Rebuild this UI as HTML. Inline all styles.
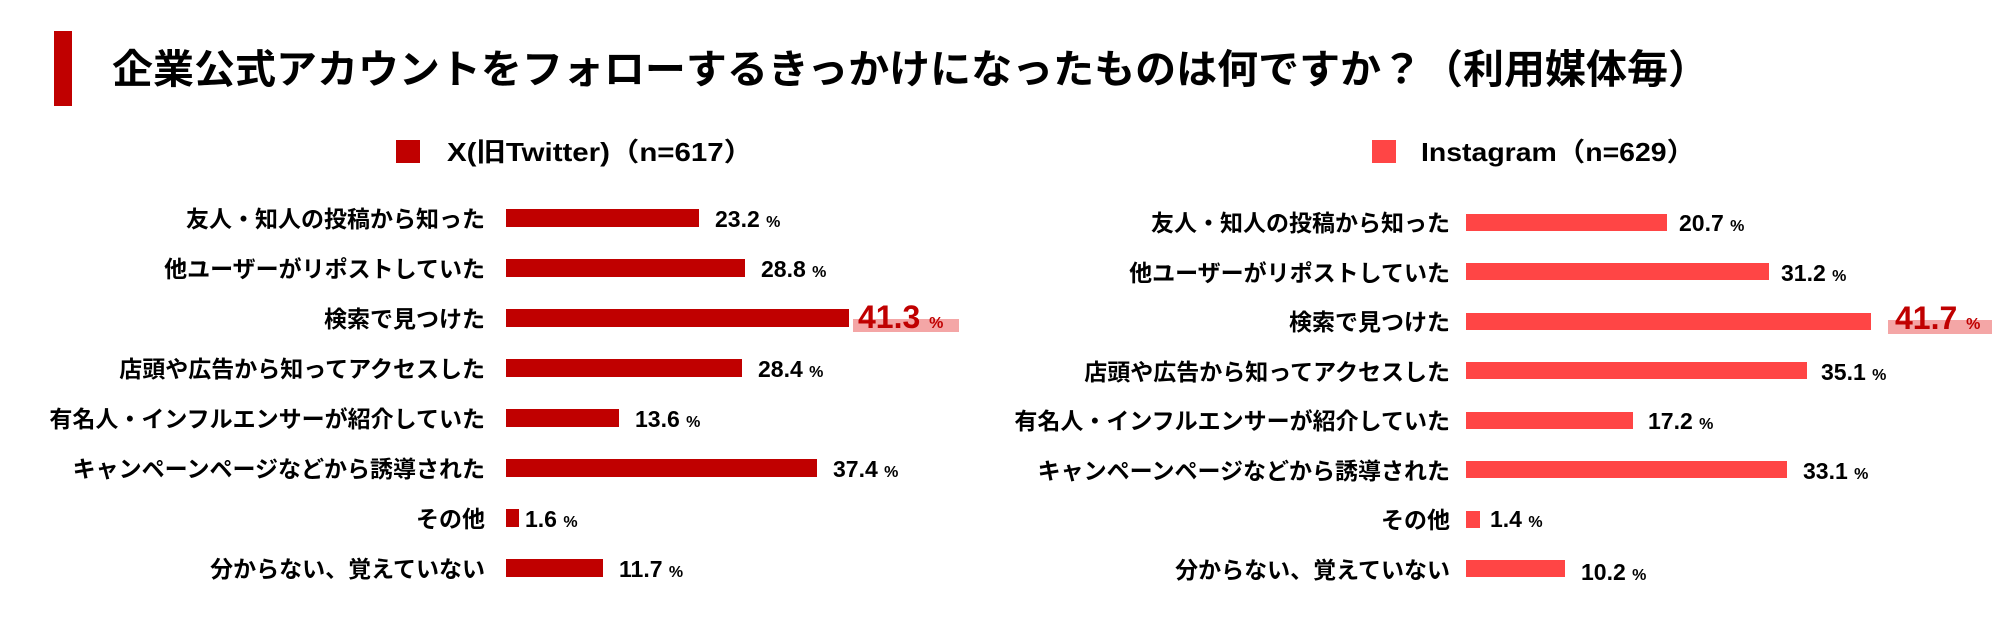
<!DOCTYPE html>
<html><head><meta charset="utf-8"><style>
html,body{margin:0;padding:0;background:#fff;}
svg{display:block;}
text{font-family:"Liberation Sans","Noto Sans CJK JP",sans-serif;font-weight:bold;}
</style></head><body>
<svg width="2000" height="623" viewBox="0 0 2000 623" xmlns="http://www.w3.org/2000/svg">
<rect x="54" y="31" width="18" height="75" fill="#c00000"/>
<text x="112" y="83" font-size="40" textLength="1597" lengthAdjust="spacingAndGlyphs">企業公式アカウントをフォローするきっかけになったものは何ですか？（利用媒体毎）</text>

<rect x="396" y="140" width="24" height="23" fill="#c00000"/>
<text x="447" y="161" font-size="26" textLength="306" lengthAdjust="spacingAndGlyphs">X(旧Twitter)（n=617）</text>
<rect x="1372" y="140" width="24" height="23" fill="#ff4545"/>
<text x="1421" y="161" font-size="26" textLength="274" lengthAdjust="spacingAndGlyphs">Instagram（n=629）</text>

<g font-size="23" text-anchor="end">
<text x="485" y="227">友人・知人の投稿から知った</text>
<text x="485" y="277">他ユーザーがリポストしていた</text>
<text x="485" y="327">検索で見つけた</text>
<text x="485" y="377">店頭や広告から知ってアクセスした</text>
<text x="485" y="427">有名人・インフルエンサーが紹介していた</text>
<text x="485" y="477">キャンペーンページなどから誘導された</text>
<text x="485" y="527">その他</text>
<text x="485" y="577">分からない、覚えていない</text>
</g>
<g fill="#c00000">
<rect x="506" y="209" width="193" height="18"/>
<rect x="506" y="259" width="239" height="18"/>
<rect x="506" y="309" width="343" height="18"/>
<rect x="506" y="359" width="236" height="18"/>
<rect x="506" y="409" width="113" height="18"/>
<rect x="506" y="459" width="311" height="18"/>
<rect x="506" y="509" width="13" height="18"/>
<rect x="506" y="559" width="97" height="18"/>
</g>
<rect x="853" y="319" width="106" height="13" fill="#f4a6a6"/>
<g font-size="23">
<text x="715" y="227">23.2 <tspan font-size="16">%</tspan></text>
<text x="761" y="277">28.8 <tspan font-size="16">%</tspan></text>
<text x="858" y="328" font-size="32" fill="#c00000">41.3 <tspan font-size="16">%</tspan></text>
<text x="758" y="377">28.4 <tspan font-size="16">%</tspan></text>
<text x="635" y="427">13.6 <tspan font-size="16">%</tspan></text>
<text x="833" y="477">37.4 <tspan font-size="16">%</tspan></text>
<text x="525" y="527">1.6 <tspan font-size="16">%</tspan></text>
<text x="619" y="577">11.7 <tspan font-size="16">%</tspan></text>
</g>

<g font-size="23" text-anchor="end">
<text x="1450" y="231">友人・知人の投稿から知った</text>
<text x="1450" y="281">他ユーザーがリポストしていた</text>
<text x="1450" y="330">検索で見つけた</text>
<text x="1450" y="380">店頭や広告から知ってアクセスした</text>
<text x="1450" y="429">有名人・インフルエンサーが紹介していた</text>
<text x="1450" y="479">キャンペーンページなどから誘導された</text>
<text x="1450" y="528">その他</text>
<text x="1450" y="578">分からない、覚えていない</text>
</g>
<g fill="#ff4545">
<rect x="1466" y="214" width="201" height="17"/>
<rect x="1466" y="263" width="303" height="17"/>
<rect x="1466" y="313" width="405" height="17"/>
<rect x="1466" y="362" width="341" height="17"/>
<rect x="1466" y="412" width="167" height="17"/>
<rect x="1466" y="461" width="321" height="17"/>
<rect x="1466" y="511" width="14" height="17"/>
<rect x="1466" y="560" width="99" height="17"/>
</g>
<rect x="1888" y="320" width="104" height="14" fill="#f4a6a6"/>
<g font-size="23">
<text x="1679" y="231">20.7 <tspan font-size="16">%</tspan></text>
<text x="1781" y="281">31.2 <tspan font-size="16">%</tspan></text>
<text x="1895" y="329" font-size="32" fill="#c00000">41.7 <tspan font-size="16">%</tspan></text>
<text x="1821" y="380">35.1 <tspan font-size="16">%</tspan></text>
<text x="1648" y="429">17.2 <tspan font-size="16">%</tspan></text>
<text x="1803" y="479">33.1 <tspan font-size="16">%</tspan></text>
<text x="1490" y="527">1.4 <tspan font-size="16">%</tspan></text>
<text x="1581" y="580">10.2 <tspan font-size="16">%</tspan></text>
</g>
</svg>
</body></html>
